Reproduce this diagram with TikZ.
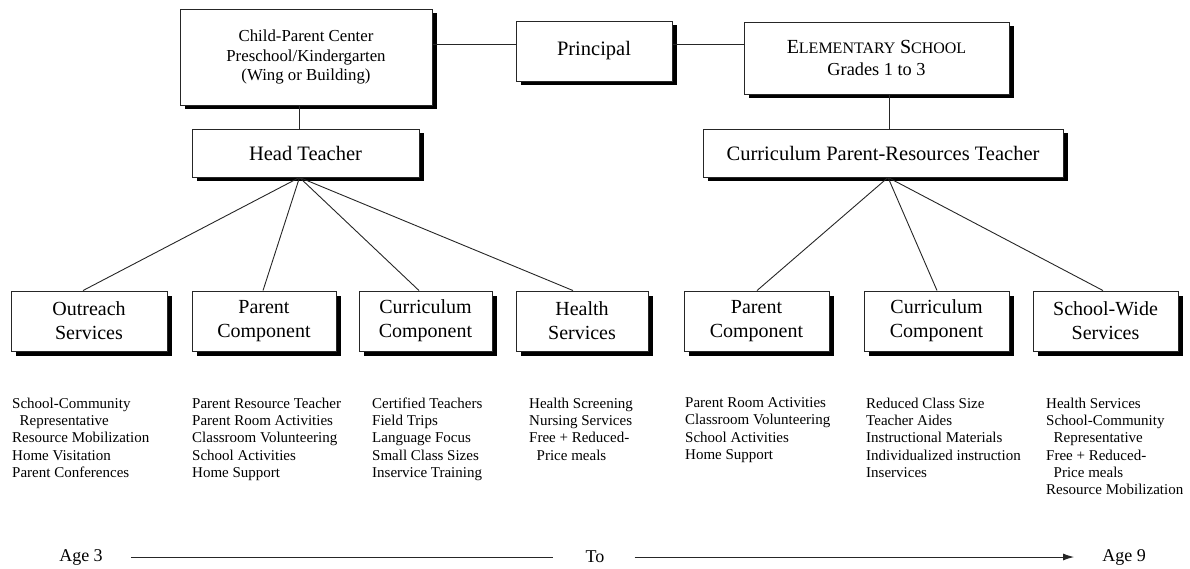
\documentclass[tikz,border=0pt]{standalone}
\usepackage{fontspec}
\setmainfont{Liberation Serif}
\usetikzlibrary{shadows,arrows.meta}
\begin{document}
\begin{tikzpicture}[x=1pt,y=-1pt,
  box/.style={draw=black!85,line width=0.9pt,fill=white,inner sep=0pt,align=center,
    drop shadow={shadow xshift=4.5pt,shadow yshift=-4.5pt,fill=black,opacity=1}},
  topfont/.style={font=\fontsize{16.8}{19.5}\selectfont},
  midfont/.style={font=\fontsize{20.5}{24}\selectfont},
  botbox/.style={box,minimum height=60pt,font=\fontsize{20}{24}\selectfont},
  lst/.style={anchor=north west,inner sep=0pt,align=left,font=\fontsize{15}{17.3}\selectfont},
  conn/.style={draw=black!85,line width=0.9pt},
  agefont/.style={font=\fontsize{18}{21}\selectfont,inner sep=0pt}]
\useasboundingbox (0,0) rectangle (1190,569);
% top row
\node[box,topfont,minimum width=252pt,minimum height=96pt] (cpc) at (306,57)
  {Child-Parent Center\\Preschool/Kindergarten\\(Wing or Building)};
\node[box,midfont,minimum width=156pt,minimum height=60pt] (pr) at (594,51) {Principal};
\node[box,minimum width=265pt,minimum height=72pt,font=\fontsize{18.3}{22}\selectfont] (el) at (876.5,58)
  {{\fontsize{20}{22}\selectfont E}{\fontsize{16}{18}\selectfont LEMENTARY} {\fontsize{20}{22}\selectfont S}{\fontsize{16}{18}\selectfont CHOOL}\\Grades 1 to 3};
% second row
\node[box,midfont,minimum width=227pt,minimum height=48pt] (ht) at (305.5,153) {Head Teacher};
\node[box,midfont,minimum width=360pt,minimum height=48pt] (cprt) at (883,153) {Curriculum Parent-Resources Teacher};
% bottom row
\node[botbox,minimum width=156pt] (out) at (89,321) {Outreach\\Services};
\node[botbox,minimum width=144pt] (par) at (264,321) {Parent\\Component};
\node[botbox,minimum width=133pt] (cur) at (425.5,321) {Curriculum\\Component};
\node[botbox,minimum width=132pt] (hea) at (582,321) {Health\\Services};
\node[botbox,minimum width=145pt] (parR) at (756.5,321) {Parent\\Component};
\node[botbox,minimum width=145pt] (curR) at (936.5,321) {Curriculum\\Component};
\node[botbox,minimum width=145pt] (sw) at (1105.5,321) {School-Wide\\Services};
% connectors
\draw[conn] ([yshift=13pt]cpc.east) -- ([yshift=7pt]pr.west);
\draw[conn] ([yshift=7pt]pr.east) -- ([yshift=14pt]el.west);
\draw[conn] ([xshift=-7pt]cpc.south) -- ([xshift=-6.5pt]ht.north);
\draw[conn] ([xshift=12.5pt]el.south) -- ([xshift=6pt]cprt.north);
\draw[conn] ([xshift=-6pt]ht.south) -- ([xshift=-6pt]out.north);
\draw[conn] ([xshift=-6pt]ht.south) -- ([xshift=-1pt]par.north);
\draw[conn] ([xshift=-6pt]ht.south) -- ([xshift=-6.5pt]cur.north);
\draw[conn] ([xshift=-6pt]ht.south) -- ([xshift=-9pt]hea.north);
\draw[conn] ([xshift=5pt]cprt.south) -- ([xshift=0.5pt]parR.north);
\draw[conn] ([xshift=5pt]cprt.south) -- ([xshift=0.5pt]curR.north);
\draw[conn] ([xshift=5pt]cprt.south) -- ([xshift=-2.5pt]sw.north);
% lists
\node[lst] (l1) at (12,397.5) {School-Community\\\hspace*{0.5em}Representative\\Resource Mobilization\\Home Visitation\\Parent Conferences};
\node[lst] (l2) at (192,397.5) {Parent Resource Teacher\\Parent Room Activities\\Classroom Volunteering\\School Activities\\Home Support};
\node[lst] (l3) at (372,397.5) {Certified Teachers\\Field Trips\\Language Focus\\Small Class Sizes\\Inservice Training};
\node[lst] (l4) at (529,397.5) {Health Screening\\Nursing Services\\Free + Reduced-\\\hspace*{0.5em}Price meals};
\node[lst] (l5) at (685,397.5) {Parent Room Activities\\Classroom Volunteering\\School Activities\\Home Support};
\node[lst] (l6) at (866,397.5) {Reduced Class Size\\Teacher Aides\\Instructional Materials\\Individualized instruction\\Inservices};
\node[lst] (l7) at (1046,397.5) {Health Services\\School-Community\\\hspace*{0.5em}Representative\\Free + Reduced-\\\hspace*{0.5em}Price meals\\Resource Mobilization};
% age line
\node[agefont] (a3) at (81,557) {Age 3};
\node[agefont] (to) at (595,557) {To};
\node[agefont] (a9) at (1124,557) {Age 9};
\draw[conn] ([xshift=28pt]a3.east) -- ([xshift=-32pt]to.west);
\draw[conn,-{Latex[length=11pt,width=7pt]}] ([xshift=30pt]to.east) -- ([xshift=-28pt]a9.west);
\end{tikzpicture}
\end{document}
